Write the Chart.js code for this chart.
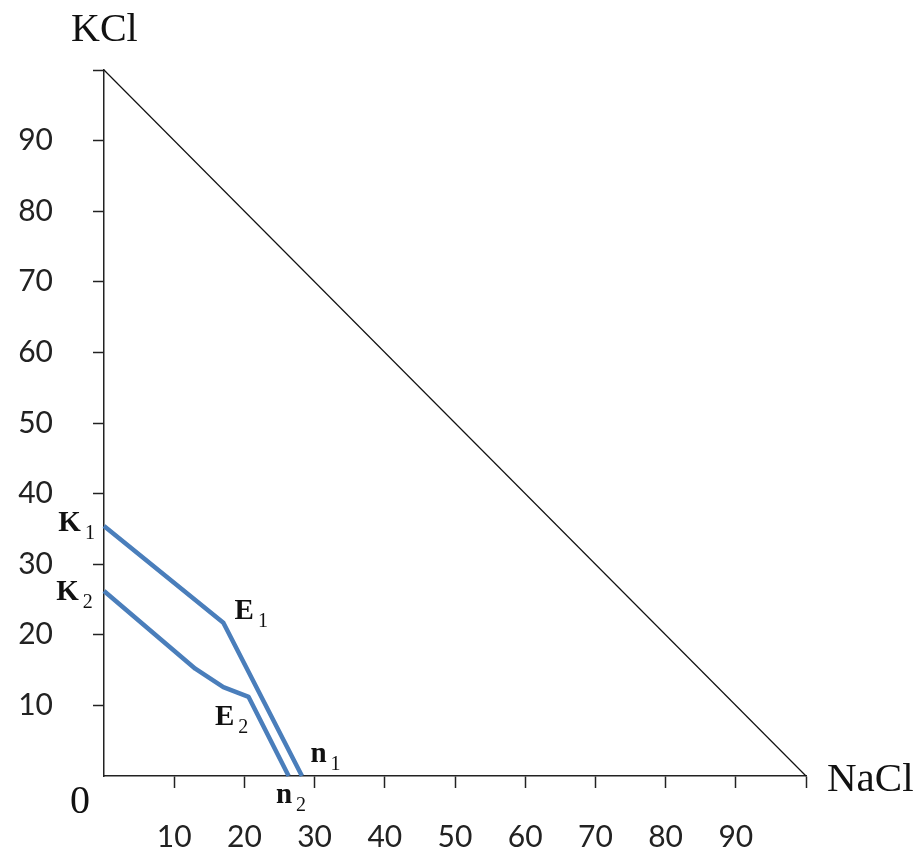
<!DOCTYPE html>
<html>
<head>
<meta charset="utf-8">
<script src="https://cdn.jsdelivr.net/npm/chart.js@4.4.1/dist/chart.umd.min.js"></script>
<style>
    html, body { margin: 0; padding: 0; background: #fff; }
    #wrap { width: 921px; height: 852px; }
</style>
</head>
<body>
<div id="wrap"><canvas id="diagChart" width="921" height="852"></canvas></div>
<script>
// NaCl (x) / KCl (y) values
const A_triNaCl = [0, 100];
const A_triKCl = [100, 0];

const A_k1NaCl = [0, 17, 28.2];
const A_k1KCl = [35.4, 21.7, 0];

const A_k2NaCl = [0, 13, 17, 20.6, 26.3];
const A_k2KCl = [26.2, 15.2, 12.6, 11.2, 0];

const A_tickLabels = ["10", "20", "30", "40", "50", "60", "70", "80", "90"];

// point names: main letter, subscript, anchor in axis units (left / baseline)
const A_names = [
    { t: "K", s: "1", x: -6.5, y: 34.7 },
    { t: "K", s: "2", x: -6.8, y: 24.9 },
    { t: "E", s: "1", x: 18.6, y: 22.2 },
    { t: "E", s: "2", x: 15.8, y: 7.2 },
    { t: "n", s: "1", x: 29.4, y: 2.0 },
    { t: "n", s: "2", x: 24.5, y: -3.8 }
];

function toPoints(xs, ys)
{
    return xs.map((v, i) => ({ x: v, y: ys[i] }));
}

const blue = "#4a7ebb";
const axisColor = "#222";
const serif = "'Liberation Serif', 'Times New Roman', serif";

const namesPlugin = {
    id: "names",
    afterDraw(chart) {
        const c = chart.ctx;
        const sx = chart.scales.x;
        const sy = chart.scales.y;
        c.save();
        c.fillStyle = "#111";
        c.textAlign = "left";
        c.textBaseline = "alphabetic";

        for (const n of A_names)
        {
            const px = sx.getPixelForValue(n.x);
            const py = sy.getPixelForValue(n.y);
            c.font = "bold 29px " + serif;
            c.fillText(n.t, px, py);
            const w = c.measureText(n.t).width;
            c.font = "20px " + serif;
            c.fillText(n.s, px + w + 4, py + 8);
        }

        const x0 = sx.getPixelForValue(0);
        const xMax = sx.getPixelForValue(100);
        const y0 = sy.getPixelForValue(0);
        const yMax = sy.getPixelForValue(100);

        c.font = "40px " + serif;
        c.fillText("KCl", x0 - 33, yMax - 29);
        c.font = "41px " + serif;
        c.fillText("NaCl", xMax + 21, y0 + 15);
        c.font = "40px " + serif;
        c.fillText("0", x0 - 34, y0 + 37);
        c.restore();
    }
};

function tickColor(ctx)
{
    return (ctx.tick && ctx.tick.value === 0) ? "rgba(0,0,0,0)" : axisColor;
}

function tickText(v)
{
    const s = String(v);
    return A_tickLabels.includes(s) ? s : "";
}

const ctx = document.getElementById("diagChart").getContext("2d");
const diagChart = new Chart(ctx, {
    type: "scatter",
    data: {
        datasets: [
            {
                data: toPoints(A_triNaCl, A_triKCl),
                showLine: true,
                borderColor: "#111",
                borderWidth: 1.2,
                pointRadius: 0,
                clip: false
            },
            {
                data: toPoints(A_k1NaCl, A_k1KCl),
                showLine: true,
                borderColor: blue,
                borderWidth: 4.5,
                borderJoinStyle: "round",
                pointRadius: 0,
                clip: false
            },
            {
                data: toPoints(A_k2NaCl, A_k2KCl),
                showLine: true,
                borderColor: blue,
                borderWidth: 4.5,
                borderJoinStyle: "round",
                pointRadius: 0,
                clip: false
            }
        ]
    },
    options: {
        responsive: false,
        animation: false,
        layout: { padding: { top: 70, right: 115, left: 0, bottom: 0 } },
        plugins: {
            legend: { display: false },
            tooltip: { enabled: false }
        },
        scales: {
            x: {
                type: "linear",
                min: 0,
                max: 100,
                afterFit: (s) => { s.height = 76; },
                border: { display: true, color: axisColor, width: 1.5 },
                grid: {
                    drawOnChartArea: false,
                    drawTicks: true,
                    tickLength: 12,
                    tickWidth: 1.5,
                    tickColor: tickColor
                },
                ticks: {
                    stepSize: 10,
                    autoSkip: false,
                    maxRotation: 0,
                    padding: 31,
                    color: "#222",
                    font: { family: "Lato", size: 30 },
                    callback: tickText
                }
            },
            y: {
                type: "linear",
                min: 0,
                max: 100,
                afterFit: (s) => { s.width = 104; },
                border: { display: true, color: axisColor, width: 1.5 },
                grid: {
                    drawOnChartArea: false,
                    drawTicks: true,
                    tickLength: 11,
                    tickWidth: 1.5,
                    tickColor: tickColor
                },
                ticks: {
                    stepSize: 10,
                    autoSkip: false,
                    padding: 40,
                    color: "#222",
                    font: { family: "Lato", size: 30 },
                    callback: tickText
                }
            }
        }
    },
    plugins: [namesPlugin]
});
</script>
</body>
</html>
